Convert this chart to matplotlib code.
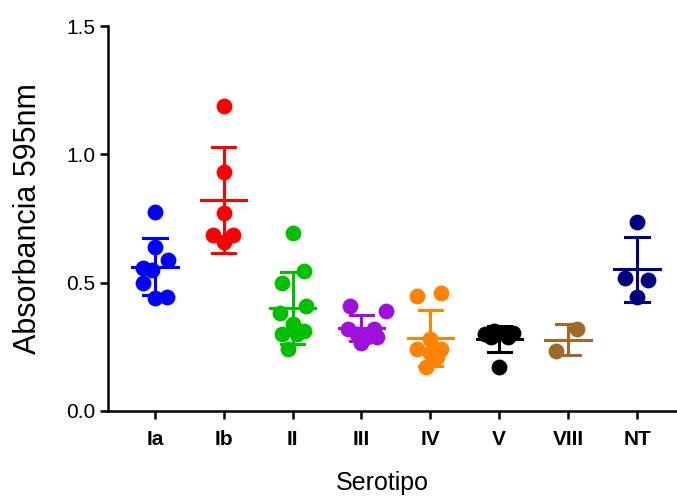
import numpy as np
import matplotlib
matplotlib.use('Agg')
import matplotlib.pyplot as plt

plt.rcParams['font.family'] = ['Liberation Sans', 'DejaVu Sans']

serotypes = ['Ia', 'Ib', 'II', 'III', 'IV', 'V', 'VIII', 'NT']
values = [
    [0.775, 0.64, 0.59, 0.557, 0.55, 0.50, 0.44, 0.445],
    [1.19, 0.93, 0.77, 0.686, 0.686, 0.66],
    [0.695, 0.545, 0.50, 0.41, 0.38, 0.34, 0.31, 0.30, 0.30, 0.24],
    [0.41, 0.39, 0.32, 0.32, 0.30, 0.29, 0.29, 0.265],
    [0.45, 0.46, 0.28, 0.24, 0.225, 0.24, 0.21, 0.17],
    [0.30, 0.31, 0.305, 0.305, 0.29, 0.29, 0.17],
    [0.32, 0.235],
    [0.736, 0.518, 0.51, 0.444],
]
# horizontal scatter of the dots within each column
jitter = [
    [0.0, 0.0, 0.19, -0.17, -0.04, -0.17, 0.0, 0.17],
    [0.0, 0.0, 0.0, -0.15, 0.14, 0.0],
    [0.0, 0.17, -0.16, 0.19, -0.19, 0.0, 0.16, -0.15, 0.07, -0.07],
    [-0.16, 0.36, -0.2, 0.18, -0.06, 0.08, 0.22, 0.0],
    [-0.19, 0.16, 0.0, -0.2, 0.0, 0.16, 0.1, -0.06],
    [-0.2, -0.07, 0.05, 0.2, 0.12, -0.12, 0.0],
    [0.13, -0.17],
    [0.0, -0.17, 0.16, 0.0],
]
colors = ['#0000FF', '#FF0000', '#00C000', '#A010DC',
          '#FF8200', '#000000', '#A0692A', '#000080']

fig = plt.figure(figsize=(6.77, 5.0), dpi=100)
ax = fig.add_axes([0.1595, 0.178, 0.8405, 0.77])

for i, (vals, jit, c) in enumerate(zip(values, jitter, colors)):
    vals = np.array(vals)
    ax.scatter(i + np.array(jit), vals, s=130, color=c, zorder=3, linewidths=0)
    m = vals.mean()
    sd = vals.std(ddof=1)
    ax.plot([i - 0.33, i + 0.33], [m, m], color=c, lw=2.2, zorder=4)
    ax.plot([i, i], [m - sd, m + sd], color=c, lw=2.2, zorder=4)
    for y in (m - sd, m + sd):
        ax.plot([i - 0.17, i + 0.17], [y, y], color=c, lw=2.2, zorder=4)

ax.set_xlim(-0.68, 7.58)
ax.set_ylim(0, 1.5)
ax.set_yticks([0.0, 0.5, 1.0, 1.5])
ax.set_yticklabels(['0.0', '0.5', '1.0', '1.5'])
ax.set_xticks(range(len(serotypes)))
ax.set_xticklabels(serotypes, fontweight='bold')

for s in ['top', 'right']:
    ax.spines[s].set_visible(False)
for s in ['left', 'bottom']:
    ax.spines[s].set_linewidth(1.8)
ax.tick_params(width=1.8, length=6, labelsize=15, pad=3)
ax.tick_params(axis='x', pad=8)

ax.set_ylabel('Absorbancia 595nm', fontsize=22)
ax.yaxis.set_label_coords(-0.115, 0.5)
ax.set_xlabel('Serotipo', fontsize=18)
ax.xaxis.set_label_coords((382 - 108) / 569, -0.155)

plt.savefig('out.png', dpi=100)
